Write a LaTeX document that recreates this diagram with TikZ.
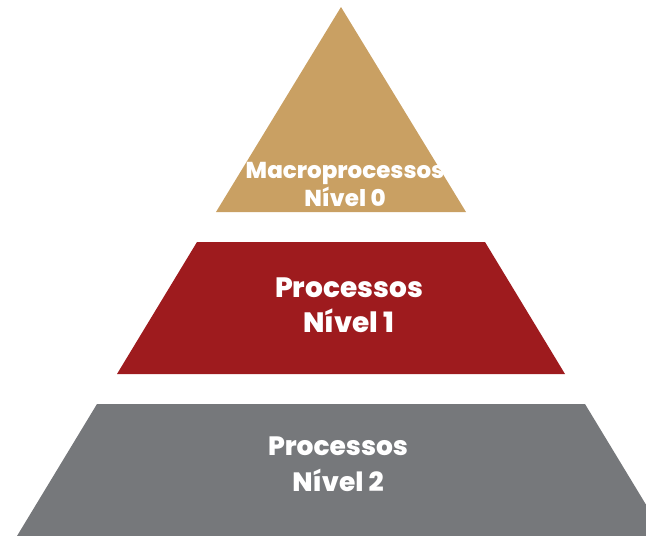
\documentclass[tikz,border=0pt]{standalone}
\usepackage{fontspec}
\setmainfont{Poppins}[BoldFont={Poppins ExtraBold}]
\definecolor{gold}{RGB}{201,160,99}
\definecolor{wine}{RGB}{158,27,30}
\definecolor{slate}{RGB}{118,120,123}
\tikzset{
  lbl/.style={text=white,align=center,inner sep=0pt},
  toplbl/.style={lbl,font=\bfseries\fontsize{23}{28}\selectfont},
  midlbl/.style={lbl,font=\bfseries\fontsize{28}{35}\selectfont},
  botlbl/.style={lbl,font=\bfseries\fontsize{26.5}{36}\selectfont}
}
\begin{document}
\begin{tikzpicture}[x=1pt,y=-1pt]
  \useasboundingbox (0,0) rectangle (646,536);
  \clip (0,0) rectangle (646,536);
  % nivel 0
  \fill[gold] (341,7) -- (466,212) -- (216,212) -- cycle;
  % nivel 1
  \fill[wine] (197,242) -- (485,242) -- (565,374) -- (117,374) -- cycle;
  % nivel 2
  \fill[slate] (97,404) -- (585,404) -- (665,536) -- (17,536) -- cycle;
  \node[toplbl] (n0) at (345,184) {Macroprocessos\\Nível 0};
  \node[midlbl] (n1) at (349,305) {Processos\\Nível 1};
  \node[botlbl] (n2) at (338,464) {Processos\\Nível 2};
\end{tikzpicture}
\end{document}
